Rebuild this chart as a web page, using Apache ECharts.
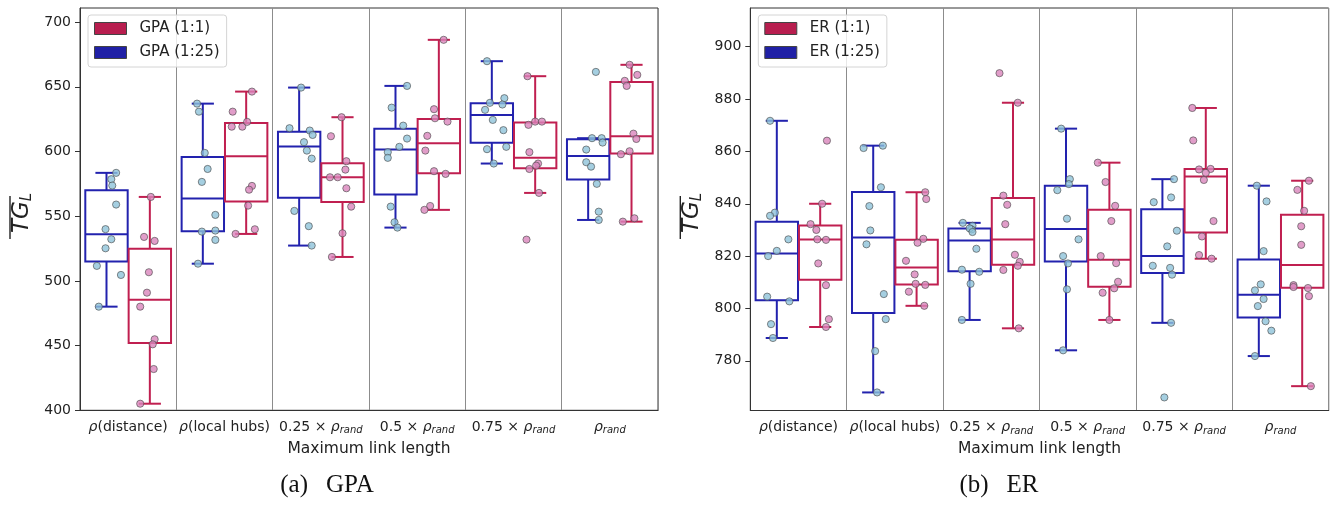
<!DOCTYPE html>
<html><head><meta charset="utf-8">
<script src="https://cdn.jsdelivr.net/npm/echarts@6/dist/echarts.min.js"></script>
<style>html,body{margin:0;padding:0;background:#fff}#c{width:1335px;height:506px}</style>
</head><body><div id="c"></div>
<script>
// ---------------- data ----------------
const categories = ['ρ(distance)', 'ρ(local hubs)', '0.25 × ρ_rand', '0.5 × ρ_rand', '0.75 × ρ_rand', 'ρ_rand'];
const gpaTicks = [400, 450, 500, 550, 600, 650, 700];
const erTicks = [780, 800, 820, 840, 860, 880, 900];

// GPA (1:25) – one list of run values per category
const gpa25 = [
  [583.5, 578.6, 573.7, 559, 540, 532.2, 525.2, 511.6, 504.6, 480.1],
  [637, 630.8, 598.9, 586.5, 576.5, 551, 538.1, 538.9, 531.7, 513.3],
  [649.4, 618, 616.2, 612.8, 607.2, 600.7, 594.5, 554.1, 542.3, 527.3],
  [650.7, 633.9, 620, 610, 603.6, 599.5, 595.1, 557.4, 545.3, 541.2],
  [669.8, 641.2, 637.6, 636.3, 632.2, 624.4, 616.5, 601.8, 603.6, 590.7],
  [661.5, 610.3, 610.3, 606.9, 601.5, 591.7, 588.3, 575, 553.5, 547.1]
];
// strip-plot jitter (fraction of a category)
const gpa25Jitter = [
  [.10, .05, .06, .10, -.01, .05, -.01, -.10, .15, -.08],
  [-.06, -.04, .02, .05, -.01, .13, -.01, .13, .13, -.05],
  [.02, -.10, .11, .14, .05, .08, .13, -.05, .10, .13],
  [.12, -.04, .08, .12, .04, -.08, -.08, -.05, -.01, .02],
  [-.05, .13, -.02, .11, -.07, .01, .12, -.05, .15, .02],
  [.08, .04, .14, .15, -.02, -.02, .03, .09, .11, .11]
];
// GPA (1:1)
const gpa11 = [
  [564.9, 534, 530.9, 506.7, 490.9, 480.1, 454.9, 451, 431.9, 405.1],
  [646.3, 630.8, 619.2, 619.2, 622.9, 573.4, 570.5, 558.2, 536.3, 539.9],
  [626.5, 611.8, 592.5, 586, 580.1, 580.1, 571.6, 557.4, 536.8, 518.5],
  [686.3, 632.7, 625.7, 623.1, 612.1, 600.7, 584.8, 582.7, 557.9, 554.9],
  [658.2, 620.6, 623.1, 623.1, 599.5, 590.7, 589.1, 586.5, 568, 531.9],
  [667, 659.2, 654.6, 650.7, 613.8, 609.7, 597.9, 600.2, 548.4, 545.8]
];
const gpa11Jitter = [
  [.01, -.06, .05, -.01, -.03, -.10, .05, .03, .04, -.10],
  [.06, -.14, -.15, -.04, .01, .06, .03, .02, -.11, .09],
  [-.01, -.12, .04, .03, -.13, -.05, .04, .09, .00, -.11],
  [.05, -.05, -.04, .09, -.12, -.14, -.05, .07, -.09, -.15],
  [-.08, -.07, .00, .07, -.06, .03, .01, -.06, .04, -.09],
  [-.02, .06, -.07, -.05, .02, .05, -.11, -.02, .03, -.09]
];
// ER (1:25)
const er25 = [
  [871.7, 836.6, 835.4, 826.4, 822, 820, 804.5, 802.7, 794, 788.7],
  [862.2, 861.3, 846.3, 839.1, 829.8, 824.5, 805.5, 795.9, 783.7, 767.9],
  [832.7, 831.6, 830.2, 830.6, 829.2, 822.8, 814.8, 814, 809.4, 795.6],
  [868.7, 849.4, 847.5, 845.2, 834.3, 826.4, 820, 817.2, 807.3, 784],
  [849.4, 842.4, 840.6, 829.7, 823.7, 816.3, 815.5, 812.9, 794.5, 766],
  [846.9, 840.9, 821.9, 809.2, 806.9, 803.6, 800.9, 795.1, 791.5, 781.8]
];
const er25Jitter = [
  [-.07, -.02, -.07, .12, .00, -.09, -.10, .13, -.06, -.04],
  [.10, -.10, .08, -.04, -.03, -.07, .11, .13, .02, .04],
  [-.07, .03, .02, .00, .03, .07, -.08, .10, .01, -.08],
  [-.05, .04, .03, -.09, .01, .13, -.03, .02, .01, -.03],
  [.12, .09, -.09, .15, .05, -.10, .08, .10, .09, .02],
  [-.02, .08, .05, .02, -.04, .05, -.01, .07, .13, -.04]
];
// ER (1:1)
const er11 = [
  [864.1, 840, 832.2, 830, 826.4, 826.2, 817.2, 808.9, 795.9, 792.9],
  [844.4, 841.8, 826.6, 825.1, 818.2, 813, 809.4, 809, 806.4, 801],
  [889.9, 878.6, 843.1, 839.6, 832.2, 820.5, 817.8, 816.3, 814.7, 792.4],
  [855.7, 848.3, 839.2, 833.4, 820, 817.3, 810.2, 807.7, 806, 795.6],
  [876.6, 864.2, 853.1, 853.3, 851.8, 849.1, 833.4, 827.5, 820.4, 819],
  [848.8, 845.3, 837.3, 831.4, 824.3, 808.9, 808.2, 807.8, 804.7, 770.3]
];
const er11Jitter = [
  [.07, .02, -.10, -.04, -.03, .06, -.02, .06, .09, .06],
  [.09, .10, .07, .01, -.11, -.02, -.01, .09, -.08, .08],
  [-.14, .05, -.10, -.06, -.08, .02, .07, .05, -.10, .06],
  [-.12, -.04, .06, .02, -.09, .07, .09, .05, -.07, .00],
  [-.14, -.13, -.07, .05, .00, -.02, .08, -.04, -.07, .06],
  [.07, -.05, .02, -.01, -.01, -.09, -.09, .06, .07, .09]
];

// ---------------- styles ----------------
const FONT = 'DejaVu Sans';
const RED = '#C01F50', BLUE = '#2222AE';
const RED_SW = '#B81E4F', BLUE_SW = '#2020A6';
const RED_PT = '#D985BC', BLUE_PT = '#8EC3D9';
const BOX_OFF = 0.225, BOX_W = 0.44, CAP_W = 0.23;

function quantile(s, p) {
  const idx = (s.length - 1) * p, lo = Math.floor(idx), hi = Math.ceil(idx);
  return s[lo] + (s[hi] - s[lo]) * (idx - lo);
}
function boxStats(vals) {
  const s = vals.slice().sort((a, b) => a - b);
  const q1 = quantile(s, .25), med = quantile(s, .5), q3 = quantile(s, .75), iqr = q3 - q1;
  const lo = Math.min.apply(null, s.filter(v => v >= q1 - 1.5 * iqr));
  const hi = Math.max.apply(null, s.filter(v => v <= q3 + 1.5 * iqr));
  return [lo, q1, med, q3, hi];
}

function boxSeries(name, groups, side, color, axisIdx) {
  return {
    type: 'custom', name: name, xAxisIndex: axisIdx, yAxisIndex: axisIdx, z: 2,
    itemStyle: { color: side < 0 ? BLUE_SW : RED_SW },
    encode: { x: 0, y: [1, 2, 3, 4, 5] },
    data: groups.map((g, i) => [i].concat(boxStats(g))),
    renderItem: function (params, api) {
      const cat = api.value(0);
      const band = api.size([1, 0])[0];
      const cx = api.coord([cat, api.value(3)])[0] + side * BOX_OFF * band;
      const y = v => api.coord([cat, v])[1];
      const lo = y(api.value(1)), q1 = y(api.value(2)), med = y(api.value(3)), q3 = y(api.value(4)), hi = y(api.value(5));
      const w = BOX_W * band, cw = CAP_W * band;
      const ls = { stroke: color, lineWidth: 2, fill: null };
      return { type: 'group', children: [
        { type: 'line', shape: { x1: cx, y1: q1, x2: cx, y2: lo }, style: ls },
        { type: 'line', shape: { x1: cx, y1: q3, x2: cx, y2: hi }, style: ls },
        { type: 'line', shape: { x1: cx - cw / 2, y1: lo, x2: cx + cw / 2, y2: lo }, style: ls },
        { type: 'line', shape: { x1: cx - cw / 2, y1: hi, x2: cx + cw / 2, y2: hi }, style: ls },
        { type: 'rect', shape: { x: cx - w / 2, y: q3, width: w, height: q1 - q3 }, style: { stroke: color, lineWidth: 2, fill: null } },
        { type: 'line', shape: { x1: cx - w / 2, y1: med, x2: cx + w / 2, y2: med }, style: ls }
      ] };
    }
  };
}
function pointSeries(name, groups, jitters, side, fill, axisIdx) {
  const data = [];
  groups.forEach((g, i) => g.forEach((v, k) => data.push([i, v, jitters[i][k]])));
  return {
    type: 'custom', name: name, xAxisIndex: axisIdx, yAxisIndex: axisIdx, z: 3,
    encode: { x: 0, y: 1 },
    data: data,
    renderItem: function (params, api) {
      const band = api.size([1, 0])[0];
      const p = api.coord([api.value(0), api.value(1)]);
      return { type: 'circle',
        shape: { cx: p[0] + (side * BOX_OFF + api.value(2)) * band, cy: p[1], r: 3.6 },
        style: { fill: fill, stroke: '#4a4a4a', lineWidth: 0.8, opacity: 0.8 } };
    }
  };
}

function labelFmt(s) {
  return s.replace(/ρ_rand/, '{i|ρ}{s|rand}').replace(/^ρ\(/, '{i|ρ}(');
}
function xAxis(gridIndex, title) {
  return {
    type: 'category', gridIndex: gridIndex, data: categories,
    axisLine: { lineStyle: { color: '#333', width: 1 } },
    axisTick: { alignWithLabel: true, interval: 0, length: 5, lineStyle: { color: '#333' } },
    splitLine: { show: true, interval: 0, lineStyle: { color: '#8c8c8c', width: 1 } },
    axisLabel: {
      interval: 0, margin: 8, color: '#222', fontFamily: FONT, fontSize: 14, lineHeight: 18,
      formatter: labelFmt,
      rich: {
        i: { fontFamily: FONT, fontSize: 14, fontStyle: 'italic', lineHeight: 18, color: '#222' },
        s: { fontFamily: FONT, fontSize: 10, fontStyle: 'italic', lineHeight: 18, color: '#222', padding: [7, 0, 0, 0] }
      }
    },
    name: title, nameLocation: 'middle', nameGap: 28,
    nameTextStyle: { fontFamily: FONT, fontSize: 15.5, color: '#222' }
  };
}
function yAxis(gridIndex, min, max, ticks) {
  return {
    type: 'value', gridIndex: gridIndex, min: min, max: max,
    axisLine: { show: true, lineStyle: { color: '#333', width: 1 } },
    axisTick: { show: true, length: 5, lineStyle: { color: '#333' }, customValues: ticks },
    axisLabel: { margin: 9, color: '#222', fontFamily: FONT, fontSize: 14, customValues: ticks },
    splitLine: { show: false }
  };
}
function legend(left, names) {
  return {
    left: left, top: 15, orient: 'vertical', data: names, selectedMode: false,
    icon: 'rect', itemWidth: 32, itemHeight: 12, itemGap: 7,
    padding: [5, 7, 6, 6], backgroundColor: 'rgba(255,255,255,0.8)',
    borderColor: '#d4d4d4', borderWidth: 1, borderRadius: 3,
    itemStyle: { borderColor: '#444', borderWidth: 1 },
    textStyle: { fontFamily: FONT, fontSize: 15, color: '#222', lineHeight: 17, padding: [0, 0, 0, 8] }
  };
}
function yTitle(x, y) {
  return [
    { type: 'text', x: x, y: y, rotation: Math.PI / 2, z: 10,
      style: { text: '{a|TG}{b|L}', align: 'center', verticalAlign: 'middle', fill: '#222',
        rich: { a: { fontFamily: FONT, fontSize: 23, fontStyle: 'italic', fill: '#222' },
                b: { fontFamily: FONT, fontSize: 15, fontStyle: 'italic', fill: '#222', padding: [10, 0, 0, 0] } } } },
    { type: 'line', z: 10, shape: { x1: x - 12, y1: y - 17, x2: x - 12, y2: y + 26 }, style: { stroke: '#222', lineWidth: 1.4 } }
  ];
}
function caption(x, tag, label) {
  return { type: 'text', x: x, y: 485, z: 10,
    style: { text: '{a|' + tag + '}{b|' + label + '}', align: 'center', verticalAlign: 'middle',
      rich: { a: { fontFamily: 'Liberation Serif', fontSize: 25, fill: '#111' },
              b: { fontFamily: 'Liberation Serif', fontSize: 25, fill: '#111', padding: [0, 0, 0, 18] } } } };
}

const chart = echarts.init(document.getElementById('c'), null, { renderer: 'canvas' });
chart.setOption({
  animation: false,
  backgroundColor: '#fff',
  grid: [
    { left: 80, top: 8, width: 578, height: 402.3, show: true, borderColor: '#333', borderWidth: 1, backgroundColor: 'transparent' },
    { left: 750.3, top: 8, width: 578.4, height: 402.5, show: true, borderColor: '#333', borderWidth: 1, backgroundColor: 'transparent' }
  ],
  xAxis: [xAxis(0, 'Maximum link length'), xAxis(1, 'Maximum link length')],
  yAxis: [yAxis(0, 400, 710.9, gpaTicks), yAxis(1, 761, 914.8, erTicks)],
  legend: [legend(88, ['GPA (1:1)', 'GPA (1:25)']), legend(758.3, ['ER (1:1)', 'ER (1:25)'])],
  graphic: [].concat(yTitle(22, 213), yTitle(692.3, 213), [caption(327, '(a)', 'GPA'), caption(999, '(b)', 'ER')]),
  series: [
    boxSeries('GPA (1:25)', gpa25, -1, BLUE, 0),
    boxSeries('GPA (1:1)', gpa11, 1, RED, 0),
    pointSeries('GPA (1:25) runs', gpa25, gpa25Jitter, -1, BLUE_PT, 0),
    pointSeries('GPA (1:1) runs', gpa11, gpa11Jitter, 1, RED_PT, 0),
    boxSeries('ER (1:25)', er25, -1, BLUE, 1),
    boxSeries('ER (1:1)', er11, 1, RED, 1),
    pointSeries('ER (1:25) runs', er25, er25Jitter, -1, BLUE_PT, 1),
    pointSeries('ER (1:1) runs', er11, er11Jitter, 1, RED_PT, 1)
  ]
});
</script></body></html>
